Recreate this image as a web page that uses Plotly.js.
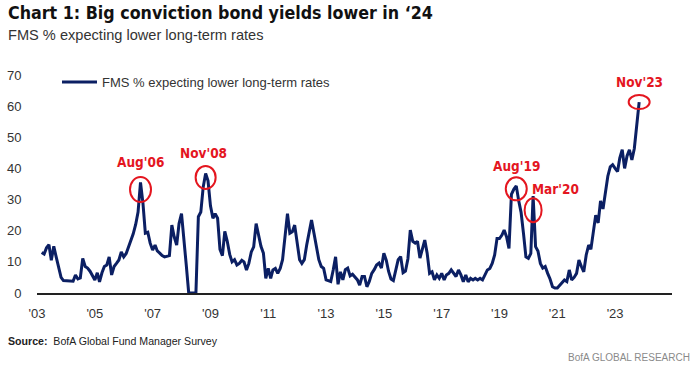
<!DOCTYPE html>
<html><head><meta charset="utf-8">
<script src="https://cdn.plot.ly/plotly-3.0.1.min.js"></script>
<style>html,body{margin:0;padding:0;background:#fff;}#chart{width:697px;height:370px;}</style>
</head><body><div id="chart"></div>
<script>
// FMS % expecting lower long-term rates, monthly (2003 starts in March, 2023 ends in November)
const v2003 = [13, 12.5, 14.5, 15.5, 10.5, 15, 11.5, 8.5, 5, 4];
const v2004 = [4, 4, 4, 3.8, 5.8, 4.5, 4.8, 11.1, 8.5, 8, 7, 5.5];
const v2005 = [4.2, 6.5, 3.6, 6.5, 8.5, 9, 11.6, 5.8, 8.5, 9.5, 10.6, 13.2];
const v2006 = [11.6, 12.7, 14.8, 16.5, 19, 22, 26, 35.5, 28.8, 19.2, 19.5, 16];
const v2007 = [13.8, 15.4, 13.5, 12.8, 12, 11.6, 11.8, 12, 21.8, 18, 15.4, 22.3];
const v2008 = [25.5, 18, 9, 0, 0, 0, 0, 24.5, 26, 34, 38.4, 36];
const v2009 = [28, 24, 25.5, 24, 14, 12, 19.8, 16.6, 12.4, 10, 10.7, 9];
const v2010 = [9.5, 10.5, 10, 7.4, 9.5, 13.2, 14.8, 22.3, 18.1, 15, 12.8, 4.7];
const v2011 = [7.9, 4.7, 7.4, 7.9, 6.3, 7.9, 10.7, 18, 25.5, 19.2, 19.7, 21.8];
const v2012 = [16, 10.7, 9.5, 10.7, 15.4, 19, 23.4, 19.2, 14.3, 10.7, 8.5, 7.9];
const v2013 = [4.2, 4, 3.7, 7.4, 11.6, 2.8, 6.8, 4.2, 7.5, 8, 5.5, 6];
const v2014 = [5, 4.2, 2.5, 5.3, 5.3, 2, 3.7, 6.3, 7.5, 9, 9.6, 8];
const v2015 = [12.8, 10.5, 7, 4.5, 4, 7, 10.7, 11.7, 6.5, 7, 11, 20.2];
const v2016 = [16.6, 16, 16.6, 11.2, 14.3, 17, 12.8, 6.3, 6.8, 4.2, 5.8, 4.7];
const v2017 = [6.3, 4.2, 5.8, 6.3, 7.4, 6.3, 5.3, 7.4, 5.8, 3.6, 5.8, 3.6];
const v2018 = [4.7, 4.2, 4.7, 4.2, 4.7, 4.2, 5.8, 7.4, 7.9, 9.5, 12.2, 17.5];
const v2019 = [17.5, 18.6, 20.2, 18, 14.3, 31.7, 33.3, 34.4, 29.6, 25.9, 19, 11.6];
const v2020 = [11.1, 12.7, 31.1, 14.9, 13.5, 9.5, 8, 8.5, 6.3, 4.5, 2, 1.6];
const v2021 = [1.6, 2.5, 3.5, 4.2, 3.7, 7.4, 4.2, 5, 6.3, 10.6, 8.5, 6.8];
const v2022 = [12.2, 15.4, 14, 20.5, 25, 22.5, 29.6, 27, 33.3, 37.5, 40.5, 41.2];
const v2023 = [40, 39, 43.3, 46, 40, 44, 46, 42.7, 46.4, 55, 61.3];

const yearSeries = [v2003, v2004, v2005, v2006, v2007, v2008, v2009, v2010, v2011, v2012, v2013,
                    v2014, v2015, v2016, v2017, v2018, v2019, v2020, v2021, v2022, v2023];
const firstYear = 2003, firstMonth = 3;

const tickYears = [2003, 2005, 2007, 2009, 2011, 2013, 2015, 2017, 2019, 2021, 2023];
const tickLabels = ["'03", "'05", "'07", "'09", "'11", "'13", "'15", "'17", "'19", "'21", "'23"];
const yTicks = [0, 10, 20, 30, 40, 50, 60, 70];

const callouts = [
  {label: "Aug'06", month: "2006-08"},
  {label: "Nov'08", month: "2008-11"},
  {label: "Aug'19", month: "2019-08"},
  {label: "Mar'20", month: "2020-03"},
  {label: "Nov'23", month: "2023-11"}
];

const seriesName = "FMS % expecting lower long-term rates";

// build date axis
const dates = [], values = [];
yearSeries.forEach((arr, i) => {
  const yr = firstYear + i;
  const m0 = i === 0 ? firstMonth : 1;
  arr.forEach((v, j) => {
    const m = m0 + j;
    dates.push(yr + '-' + String(m).padStart(2, '0') + '-01');
    values.push(v);
  });
});
const lookup = {};
dates.forEach((d, i) => { lookup[d.slice(0, 7)] = values[i]; });

// style for callouts (pixel offsets)
const calloutStyle = {
  "Aug'06": {w: 21, h: 25, dy: -7, lx: 0, ly: 20},
  "Nov'08": {w: 20, h: 23, dy: -4, lx: -2, ly: 20},
  "Aug'19": {w: 21, h: 23, dy: -3, lx: 0, ly: 20},
  "Mar'20": {w: 17, h: 24, dy: -14, lx: 22, ly: 7},
  "Nov'23": {w: 21, h: 14, dy: 0, lx: 0, ly: 20}
};

const RED = '#e4161f';
const NAVY = '#0b1f63';
const narrow = 'Liberation Sans Narrow, Arial Narrow, DejaVu Sans Condensed, sans-serif';
const reg = 'Liberation Sans, Arial, sans-serif';

const L = 37, T = 75, PW = 635, PH = 218;
const px2x = p => (p - L) / PW;
const px2y = p => (T + PH - p) / PH;

const shapes = [], annotations = [];
callouts.forEach(c => {
  const s = calloutStyle[c.label];
  const d = c.month + '-01';
  const v = lookup[c.month];
  shapes.push({
    type: 'circle', xref: 'x', yref: 'y', xsizemode: 'pixel', ysizemode: 'pixel',
    xanchor: d, yanchor: v,
    x0: -s.w / 2, x1: s.w / 2, y0: s.dy - s.h / 2, y1: s.dy + s.h / 2,
    line: {color: RED, width: 2}
  });
  annotations.push({
    x: d, y: v, xref: 'x', yref: 'y', text: '<b>' + c.label + '</b>', showarrow: false,
    xshift: s.lx, yshift: s.ly, font: {family: narrow, size: 13.5, color: RED},
    xanchor: 'center', yanchor: 'middle'
  });
});

annotations.push(
  {xref: 'paper', yref: 'paper', x: px2x(6), y: px2y(13), xanchor: 'left', yanchor: 'middle',
   text: '<b>Chart 1: Big conviction bond yields lower in \u201824</b>', showarrow: false,
   font: {family: narrow, size: 17.7, color: '#111'}},
  {xref: 'paper', yref: 'paper', x: px2x(6), y: px2y(35), xanchor: 'left', yanchor: 'middle',
   text: 'FMS % expecting lower long-term rates', showarrow: false,
   font: {family: reg, size: 14.6, color: '#333'}},
  {xref: 'paper', yref: 'paper', x: px2x(6), y: px2y(341), xanchor: 'left', yanchor: 'middle',
   text: '<b>Source:</b>  BofA Global Fund Manager Survey', showarrow: false,
   font: {family: reg, size: 10.6, color: '#222'}},
  {xref: 'paper', yref: 'paper', x: px2x(692), y: px2y(357), xanchor: 'right', yanchor: 'middle',
   text: 'BofA GLOBAL RESEARCH', showarrow: false,
   font: {family: reg, size: 10, color: '#8a8a8a'}}
);

const trace = {
  x: dates, y: values, type: 'scatter', mode: 'lines', name: seriesName,
  line: {color: NAVY, width: 3}
};

const layout = {
  width: 697, height: 370,
  margin: {l: L, r: 697 - L - PW, t: T, b: 370 - T - PH, pad: 0},
  paper_bgcolor: '#fff', plot_bgcolor: '#fff',
  showlegend: true,
  legend: {x: px2x(57), y: px2y(67), xanchor: 'left', yanchor: 'top', bgcolor: 'rgba(0,0,0,0)',
           itemwidth: 35,
           font: {family: reg, size: 13, color: '#333'}, borderwidth: 0},
  xaxis: {
    type: 'date', range: ['2003-01-01', '2024-12-20'],
    tickvals: tickYears.map(y => y + '-01-01'), ticktext: tickLabels,
    showgrid: false, zeroline: false, showline: true, linecolor: '#222', linewidth: 1.5,
    ticks: 'outside', ticklen: 8, tickcolor: 'rgba(0,0,0,0)',
    tickfont: {family: reg, size: 13, color: '#333'}, fixedrange: true
  },
  yaxis: {
    range: [0, 70], tickvals: yTicks, showgrid: false, zeroline: false, showline: false,
    ticks: 'outside', ticklen: 12, tickcolor: 'rgba(0,0,0,0)',
    tickfont: {family: reg, size: 13, color: '#333'}, fixedrange: true
  },
  shapes: shapes,
  annotations: annotations
};

Plotly.newPlot('chart', [trace], layout, {displayModeBar: false, staticPlot: true});
</script>
</body></html>
